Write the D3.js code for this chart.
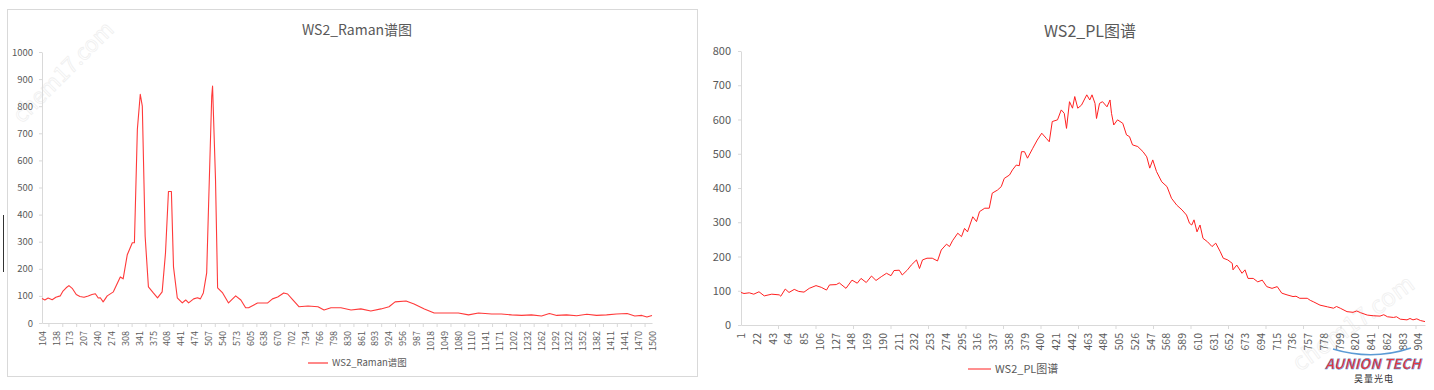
<!DOCTYPE html>
<html>
<head>
<meta charset="utf-8">
<script src="https://cdn.jsdelivr.net/npm/d3@7"></script>
<style>
  body { margin: 0; background: #fff; }
  text { font-family: 'Microsoft YaHei', 'Noto Sans CJK SC', sans-serif; fill: #595959; }
</style>
</head>
<body>
<svg id="container" width="1434" height="390"></svg>
<script>
// ---- Raman spectrum (left) ----
const ramanTicks = [104,138,173,207,240,274,308,341,375,408,441,474,507,540,573,605,638,670,702,734,
  766,798,830,861,893,924,956,987,1018,1049,1080,1110,1141,1171,1202,1232,1262,1292,1322,1352,
  1382,1411,1441,1470,1500];
const ramanYTicks = [0,100,200,300,400,500,600,700,800,900,1000];
const ramanShift = [
  104,111,119,129,138,149,156,164,171,179,
  189,198,208,218,227,235,242,247,254,264,
  279,296,303,313,325,330,337,344,349,356,
  364,376,386,397,405,412,419,424,433,445,
  453,460,472,481,488,495,503,507,515,517,
  524,529,541,555,572,584,595,602,623,638,
  647,658,670,684,693,705,719,740,763,777,
  793,816,839,861,884,907,925,939,964,982,
  1005,1027,1050,1081,1103,1125,1154,1175,1198,1220,
  1241,1263,1280,1296,1317,1339,1361,1382,1403,1424,
  1447,1463,1478,1489,1500];
const ramanCounts = [
  90,85,92,86,95,100,118,130,138,128,
  105,98,95,100,105,108,92,93,78,100,
  115,170,163,252,296,296,715,844,800,319,
  133,111,93,115,259,485,485,207,93,74,
  85,74,89,93,89,111,185,407,837,874,
  530,130,111,74,100,85,56,56,74,74,
  74,89,96,111,107,85,60,63,60,48,
  56,56,48,52,44,52,60,78,81,70,
  52,37,37,37,30,37,33,33,30,28,
  30,26,35,28,30,27,32,28,30,33,
  35,26,28,22,28];

// ---- PL spectrum (right) ----
const plTicks = [1,22,43,64,85,106,127,148,169,190,211,232,253,274,295,316,337,358,379,400,
  421,442,463,484,505,526,547,568,589,610,631,652,673,694,715,736,757,778,799,820,
  841,862,883,904];
const plYTicks = [0,100,200,300,400,500,600,700,800];
const plIndex = [
  1,5,12,18,25,32,42,52,54,60,
  65,72,78,85,92,101,108,115,119,128,
  132,141,149,156,161,168,175,181,188,195,
  201,205,212,216,223,228,235,239,243,249,
  256,263,268,275,279,283,290,295,299,303,
  310,315,319,326,332,336,343,348,352,359,
  363,368,372,375,379,383,390,396,402,408,
  412,416,423,428,432,435,439,443,446,450,
  455,462,466,469,473,475,479,483,489,493,
  495,498,503,510,515,519,523,530,537,542,
  546,550,555,562,569,575,582,589,595,599,
  602,605,609,613,617,623,629,634,640,644,
  650,656,657,662,669,673,677,684,690,696,
  702,709,716,722,729,737,741,746,756,760,
  764,773,783,791,795,800,809,817,822,827,
  836,844,853,858,863,871,875,880,889,893,
  897,902,907,913];
const plCounts = [
  95,92,94,90,97,85,90,88,84,105,
  95,104,98,96,107,115,110,102,117,118,
  123,107,131,122,136,124,143,130,141,151,
  144,159,160,146,161,175,190,165,190,195,
  195,187,219,236,229,246,268,258,282,272,
  316,302,331,341,341,385,394,404,428,438,
  453,467,465,506,506,487,516,540,560,545,
  535,594,599,628,618,574,652,633,667,633,
  642,672,657,672,647,603,647,652,637,657,
  618,584,599,589,555,550,526,521,506,491,
  458,482,448,418,404,370,350,336,321,297,
  292,307,272,292,253,243,229,239,214,195,
  190,180,161,175,151,161,136,136,126,131,
  112,107,112,93,88,83,84,78,78,72,
  68,58,53,49,54,49,39,37,41,36,
  29,27,26,30,24,22,24,17,15,19,
  15,18,13,10];

const svg = d3.select('#container');
const axisColor = '#d9d9d9';

function styleAxis(g) {
  g.select('.domain').attr('stroke', axisColor);
  g.selectAll('.tick line').attr('stroke', axisColor);
  g.selectAll('text').style('fill', '#595959');
}

// watermarks (drawn first, behind the charts)
svg.append('text')
  .attr('transform', 'translate(22,124) rotate(-45)')
  .style('font-size', '22px').style('fill', 'none')
  .style('stroke', '#efefef').style('stroke-width', 0.8)
  .text('chem17.com');
svg.append('text')
  .attr('transform', 'translate(1300,372) rotate(-36)')
  .style('font-size', '24px').style('fill', 'none')
  .style('stroke', '#efefef').style('stroke-width', 0.8)
  .text('chem17.com');

// ================= Left chart =================
svg.append('rect')
  .attr('x', 7.5).attr('y', 9.5).attr('width', 690).attr('height', 367)
  .attr('fill', 'none').attr('stroke', '#d9d9d9');

// stray black mark at left edge
svg.append('line').attr('x1', 3.5).attr('x2', 3.5).attr('y1', 215).attr('y2', 272)
  .attr('stroke', '#333').attr('stroke-width', 1);

const rLeft = 42, rRight = 652, rTop = 52, rBottom = 323;
const rStep = (rRight - rLeft) / (ramanTicks.length - 1);
const rx = d3.scaleLinear()
  .domain(ramanTicks)
  .range(ramanTicks.map((d, i) => rLeft + i * rStep));
const ry = d3.scaleLinear().domain([0, 1000]).range([rBottom, rTop]);

svg.append('text').attr('x', 357).attr('y', 35).attr('text-anchor', 'middle')
  .style('font-size', '14px').text('WS2_Raman谱图');

const ryAxis = svg.append('g')
  .attr('transform', `translate(${rLeft},0)`)
  .call(d3.axisLeft(ry).tickValues(ramanYTicks).tickSize(3).tickSizeOuter(0).tickPadding(6)
    .tickFormat(d3.format('d')))
  .call(styleAxis);
ryAxis.selectAll('text').style('font-size', '9.5px');

const rxAxis = svg.append('g')
  .attr('transform', `translate(0,${rBottom})`)
  .call(d3.axisBottom(rx).tickValues(ramanTicks).tickSize(0).tickSizeOuter(0).tickFormat(d3.format('d')))
  .call(styleAxis);
rxAxis.selectAll('text')
  .attr('transform', 'rotate(-90)')
  .attr('x', -8).attr('y', 0).attr('dy', '0.35em')
  .style('text-anchor', 'end').style('font-size', '9px');
// tick marks between category labels
rxAxis.selectAll('.midtick')
  .data(ramanTicks.slice(1))
  .enter().append('line')
  .attr('x1', (d, i) => (rx(ramanTicks[i]) + rx(d)) / 2)
  .attr('x2', (d, i) => (rx(ramanTicks[i]) + rx(d)) / 2)
  .attr('y1', 0).attr('y2', 4)
  .attr('stroke', axisColor);

const ramanLine = d3.line()
  .x((d, i) => rx(ramanShift[i]))
  .y(d => ry(d));
svg.append('path')
  .datum(ramanCounts)
  .attr('d', ramanLine)
  .attr('fill', 'none')
  .attr('stroke', '#ff3a3a')
  .attr('stroke-width', 1.1)
  .attr('stroke-linejoin', 'round');

// legend
svg.append('line').attr('x1', 308).attr('x2', 328).attr('y1', 363).attr('y2', 363)
  .attr('stroke', '#ff3a3a').attr('stroke-width', 1.2);
svg.append('text').attr('x', 332).attr('y', 363).attr('dy', '0.35em')
  .style('font-size', '9.5px').text('WS2_Raman谱图');

// ================= Right chart =================
const pLeft = 741, pRight = 1425, pTop = 51, pBottom = 325;
const px = d3.scaleLinear().domain([1, 913]).range([pLeft, pRight]);
const py = d3.scaleLinear().domain([0, 800]).range([pBottom, pTop]);

svg.append('text').attr('x', 1090).attr('y', 37).attr('text-anchor', 'middle')
  .style('font-size', '16px').text('WS2_PL图谱');

const pyAxis = svg.append('g')
  .attr('transform', `translate(${pLeft},0)`)
  .call(d3.axisLeft(py).tickValues(plYTicks).tickSize(3).tickSizeOuter(0).tickPadding(7))
  .call(styleAxis);
pyAxis.selectAll('text').style('font-size', '11px');

const pxAxis = svg.append('g')
  .attr('transform', `translate(0,${pBottom})`)
  .call(d3.axisBottom(px).tickValues(plTicks).tickSize(0).tickSizeOuter(0).tickFormat(d3.format('d')))
  .call(styleAxis);
pxAxis.selectAll('text')
  .attr('transform', 'rotate(-90)')
  .attr('x', -8).attr('y', 0).attr('dy', '0.35em')
  .style('text-anchor', 'end').style('font-size', '10.5px');
pxAxis.selectAll('.marktick')
  .data(d3.range(51, 913, 50))
  .enter().append('line')
  .attr('x1', d => px(d)).attr('x2', d => px(d))
  .attr('y1', 0).attr('y2', 4)
  .attr('stroke', axisColor);

const plLine = d3.line()
  .x((d, i) => px(plIndex[i]))
  .y(d => py(d));
svg.append('path')
  .datum(plCounts)
  .attr('d', plLine)
  .attr('fill', 'none')
  .attr('stroke', '#ff2020')
  .attr('stroke-width', 1)
  .attr('stroke-linejoin', 'round');

svg.append('line').attr('x1', 968).attr('x2', 991).attr('y1', 369).attr('y2', 369)
  .attr('stroke', '#ff2020').attr('stroke-width', 1);
svg.append('text').attr('x', 995).attr('y', 369).attr('dy', '0.35em')
  .style('font-size', '11px').text('WS2_PL图谱');

// ================= logo =================
svg.append('path')
  .attr('d', 'M1333,349 Q1372,361 1411,348')
  .attr('fill', 'none').attr('stroke', '#5b9bd5').attr('stroke-width', 1.5);
svg.append('text').attr('x', 1373).attr('y', 369).attr('text-anchor', 'middle')
  .style('font-size', '14px').style('font-style', 'italic').style('font-weight', 'bold')
  .style('fill', '#e8383d').style('stroke', '#3a8fd8').style('stroke-width', 0.4)
  .text('AUNION TECH');
svg.append('text').attr('x', 1374).attr('y', 382).attr('text-anchor', 'middle')
  .style('font-size', '9px').style('fill', '#333').style('letter-spacing', '1px')
  .text('昊量光电');
</script>
</body>
</html>
